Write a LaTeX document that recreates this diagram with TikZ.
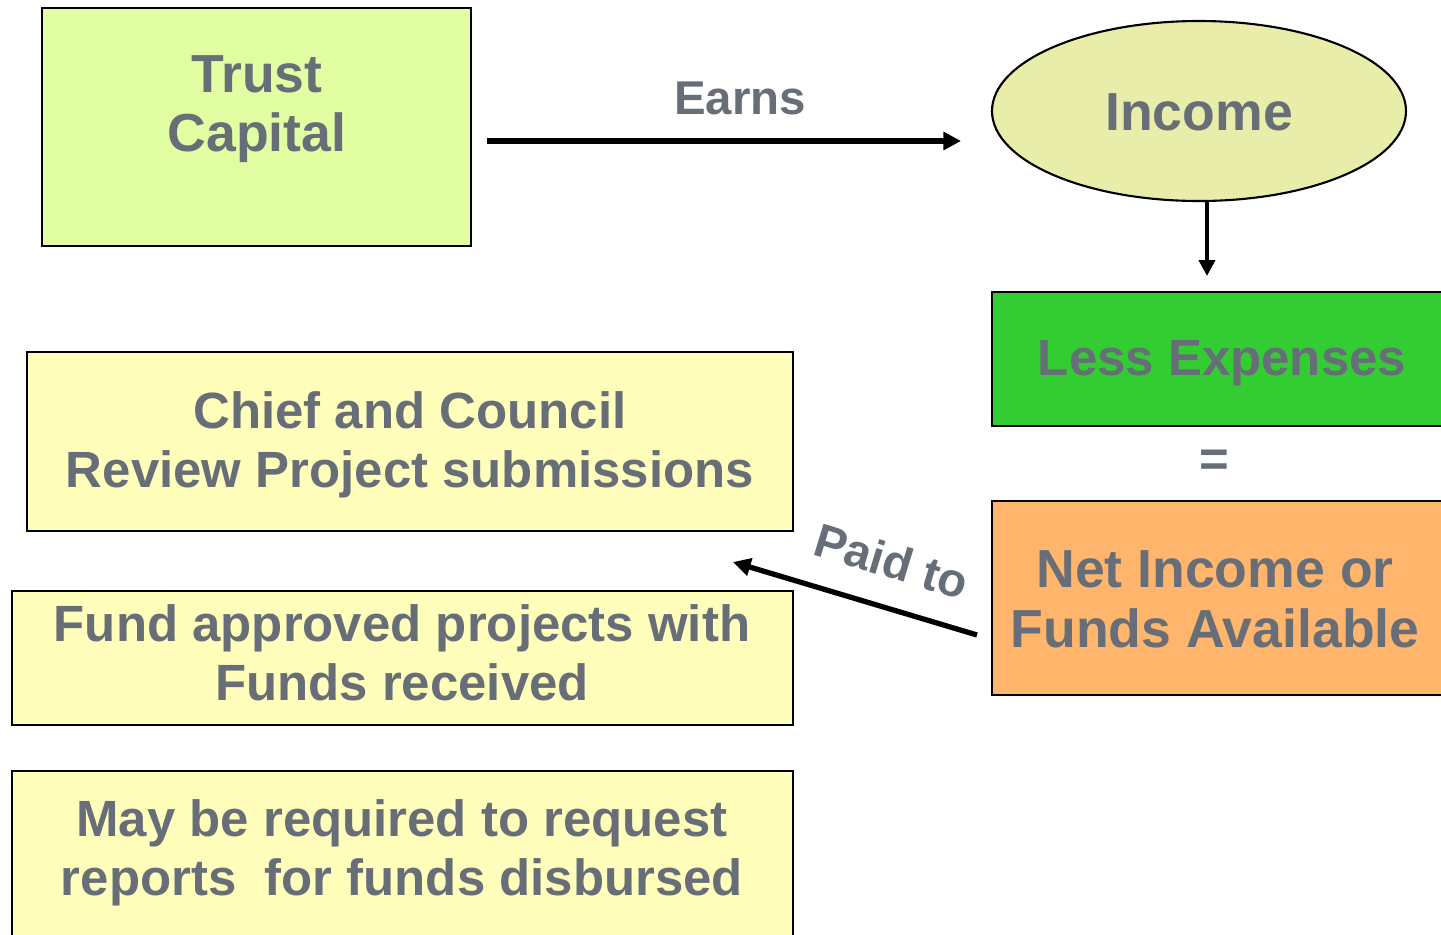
\documentclass[tikz,border=0pt]{standalone}
\usepackage{fontspec}
\setmainfont{Liberation Sans}
\usetikzlibrary{arrows.meta,shapes.geometric}
\definecolor{txtgray}{RGB}{103,110,120}
\definecolor{capfill}{RGB}{225,255,162}
\definecolor{incfill}{RGB}{232,238,170}
\definecolor{expfill}{RGB}{51,204,51}
\definecolor{netfill}{RGB}{255,181,107}
\definecolor{notefill}{RGB}{255,255,187}
\tikzset{
  px/.style={x=0.02cm,y=-0.02cm},
  lbl/.style={text=txtgray,font=\fontsize{29}{33.6}\selectfont\bfseries,align=center},
  biglbl/.style={text=txtgray,font=\fontsize{30.5}{34}\selectfont\bfseries,align=center},
  smalllbl/.style={text=txtgray,font=\fontsize{27}{32}\selectfont\bfseries,align=center},
  boxline/.style={draw=black,line width=1.2pt},
  flow/.style={draw=black,line width=3pt,-{Triangle[length=10pt,width=10pt]}},
  flowthin/.style={draw=black,line width=2.2pt,-{Triangle[length=9pt,width=9pt]}}
}
\begin{document}
\begin{tikzpicture}[px]
\useasboundingbox (0,0) rectangle (1441,934);
\clip (0,0) rectangle (1441,934);
% boxes
\path[boxline,fill=capfill] (42,8) rectangle (471,246);
\node[biglbl] (cap) at (257,109) {Trust\\Capital};
\path[boxline,fill=incfill] (1199,111) ellipse [x radius=207, y radius=90];
\node[biglbl] (inc) at (1199,112) {Income};
\path[boxline,fill=expfill] (992,292) rectangle (1460,426);
\node[lbl] (exp) at (1222,363) {Less Expenses};
\node[lbl] (eq) at (1214,463) {=};
\path[boxline,fill=netfill] (992,501) rectangle (1460,695);
\node[biglbl] (net) at (1215,599) {Net Income or\\Funds Available};
\path[boxline,fill=notefill] (27,352) rectangle (793,531);
\node[lbl] (chief) at (410,445) {Chief and Council\\Review Project submissions};
\path[boxline,fill=notefill] (12,591) rectangle (793,725);
\node[lbl] (fund) at (402,653) {Fund approved projects with\\Funds received};
\path[boxline,fill=notefill] (12,771) rectangle (793,960);
\node[lbl] (may) at (402,853) {May be required to request\\reports\ \ for funds disbursed};
% connectors
\coordinate (a1) at (487,141);
\coordinate (a2) at (961,141);
\draw[flow] (a1) -- (a2);
\node[smalllbl] (earns) at (740,98) {Earns};
\coordinate (b1) at (1207,202);
\coordinate (b2) at (1207,276);
\draw[flowthin] (b1) -- (b2);
\coordinate (c1) at (977,635);
\coordinate (c2) at (733,562);
\draw[flow] (c1) -- (c2);
\node[smalllbl,rotate=-17] (paid) at (892,561) {Paid to};
\end{tikzpicture}
\end{document}
